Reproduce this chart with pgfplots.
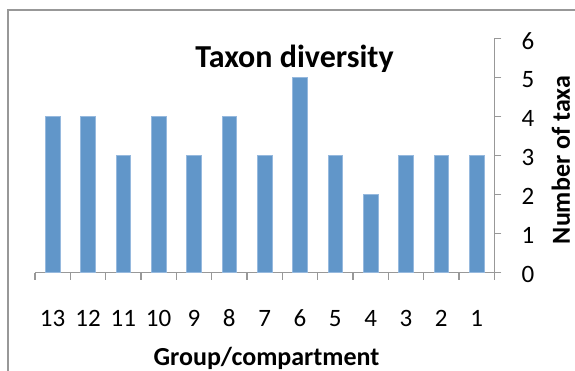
\documentclass[border=0pt]{standalone}
\usepackage{fontspec}
\setmainfont{Carlito}
\usepackage{pgfplots}
\pgfplotsset{compat=1.18}
\definecolor{barblue}{RGB}{97,150,201}
\definecolor{baredge}{RGB}{150,185,222}
\definecolor{axisgray}{RGB}{152,152,152}
\begin{document}
\begin{tikzpicture}
% chart frame (only the left and top edges fall inside the page)
\draw[axisgray, line width=2pt] (8pt,0pt) -- (8pt,361pt) -- (580pt,361pt);
\begin{axis}[
  at={(35pt,98.3pt)}, anchor=south west,
  scale only axis, width=459.3pt, height=234pt,
  xmin=-0.5, xmax=12.5, ymin=0, ymax=6,
  axis x line*=bottom, axis y line*=right,
  axis line style={axisgray, line width=1.5pt},
  tick align=outside,
  major tick length=7pt, minor tick length=7pt,
  tick style={axisgray, line width=1.5pt},
  xtick={0,...,12},
  xticklabels={13,12,11,10,9,8,7,6,5,4,3,2,1},
  major x tick style={draw=none},
  minor xtick={-0.5,0.5,...,12.5},
  ytick={0,...,6},
  /pgf/number format/assume math mode=true,
  tick label style={font=\fontsize{25}{30}\selectfont, inner sep=0pt},
  xticklabel style={anchor=base, yshift=-47pt},
  yticklabel style={anchor=west, xshift=20pt, yshift=-2pt},
  title={Taxon diversity},
  every axis title/.style={at={(axis description cs:0.565,0.875)}, anchor=base,
    font=\bfseries\fontsize{32}{38}\selectfont, inner sep=0pt},
  xlabel={Group/compartment},
  every axis x label/.style={at={(axis description cs:0.504,-0.3955)}, anchor=base,
    font=\bfseries\fontsize{26}{31}\selectfont, inner sep=0pt},
  ylabel={Number of taxa},
  every axis y label/.style={at={(axis description cs:1.1648,0.4816)}, rotate=90,
    anchor=base, font=\bfseries\fontsize{26}{31}\selectfont, inner sep=0pt},
]
\addplot[ybar, bar width=14.5pt, fill=barblue, draw=baredge, line width=0.6pt]
  coordinates {(0,4) (1,4) (2,3) (3,4) (4,3) (5,4) (6,3)
               (7,5) (8,3) (9,2) (10,3) (11,3) (12,3)};
\end{axis}
\pgfresetboundingbox
\useasboundingbox (0pt,0pt) rectangle (575pt,371pt);
\end{tikzpicture}
\end{document}
